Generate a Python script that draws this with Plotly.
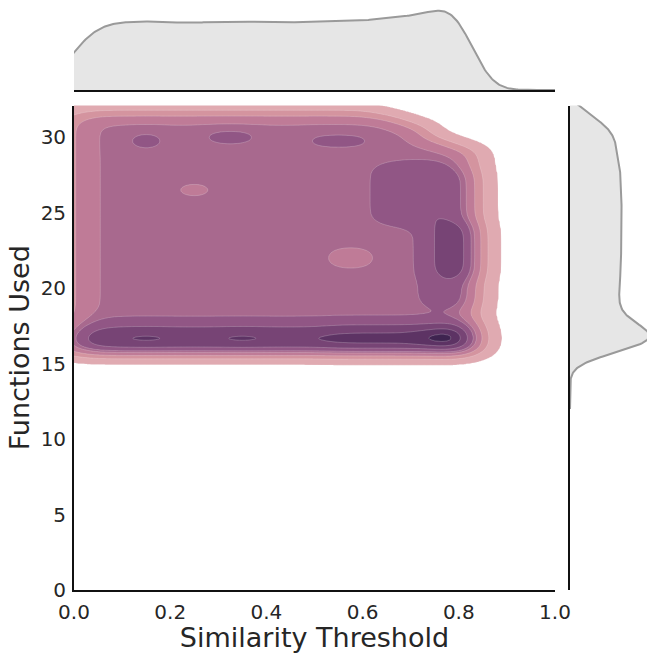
import numpy as np
import plotly.graph_objects as go

# ---------------- data ----------------
# similarity thresholds (x) and functions-used rows (y) of the sampled grid
thresholds = [0.00, 0.05, 0.10, 0.15, 0.20, 0.25, 0.30, 0.35, 0.40,
              0.45, 0.50, 0.55, 0.60, 0.65, 0.70, 0.75, 0.80]
func_rows = [16.0, 16.5, 17.0, 17.5, 18.0, 18.5, 19.0, 19.5, 20.0, 20.5,
             21.0, 21.5, 22.0, 22.5, 23.0, 23.5, 24.0, 24.5, 25.0, 25.5,
             26.0, 26.5, 27.0, 27.5, 28.0, 28.5, 29.0, 29.5, 30.0, 30.5,
             31.0, 31.5]
# relative frequency of each functions-used row
row_weight = [1.85, 2.00, 1.95, 1.35, 1.10, 1.00, 1.00, 1.00, 1.00, 1.00,
              1.00, 1.00, 1.00, 1.00, 1.00, 1.00, 1.00, 1.00, 1.00, 1.00,
              1.00, 1.00, 1.00, 1.00, 1.00, 1.00, 1.00, 1.00, 1.00, 1.00,
              1.00, 0.55]
# relative frequency of each threshold column
col_weight = [0.62, 1.00, 1.00, 1.00, 1.00, 1.00, 1.00, 1.00, 1.00,
              1.00, 1.00, 1.00, 1.00, 1.00, 1.00, 1.00, 1.00]
# highest functions-used value observed for each threshold
col_top = [31.5, 31.5, 31.5, 31.5, 31.5, 31.5, 31.5, 31.5, 31.5,
           31.5, 31.5, 31.5, 31.5, 31.0, 30.5, 29.5, 29.0]
# local excess / deficit of observations (rectangles of the grid)
zone_x0 = [0.65, 0.70, 0.80, 0.75, 0.80, 0.75, 0.80, 0.55, 0.80, 0.75, 0.15, 0.35, 0.15, 0.30, 0.50, 0.55, 0.25]
zone_x1 = [0.75, 0.75, 0.80, 0.75, 0.80, 0.75, 0.80, 0.80, 0.80, 0.80, 0.15, 0.35, 0.15, 0.35, 0.60, 0.60, 0.25]
zone_y0 = [24.5, 24.5, 24.5, 19.0, 19.0, 21.0, 21.0, 16.0, 16.0, 16.5, 16.5, 16.5, 29.5, 30.0, 29.5, 21.5, 26.5]
zone_y1 = [28.0, 28.0, 27.5, 24.0, 24.0, 24.0, 24.0, 17.5, 17.5, 17.0, 17.0, 17.0, 30.0, 30.0, 30.0, 22.5, 26.5]
zone_w = [0.30, 0.20, 0.50, 0.30, 0.60, 0.10, 0.80, 0.15, 0.35, 0.35, 0.15, 0.15, 0.40, 0.50, 0.22, -0.14, -0.40]

# ---------------- style ----------------
contour_levels = [0.055, 0.31, 0.60, 0.93, 1.12, 1.50, 1.90, 2.20]
band_colors = ["rgba(255,255,255,0)", "#e0aab1", "#d4949f", "#bf7b97",
               "#a8698e", "#915685", "#774475", "#5d3364", "#3f2450"]
bw_x, bw_y = 0.035, 0.47
bw_mx, bw_my = 0.04, 0.75

# ---------------- density ----------------
tx = np.array(thresholds)
ry = np.array(func_rows)
hx, hy = 0.05, 0.5
W = np.zeros((len(ry), len(tx)))
for i, xv in enumerate(tx):
    for j, yv in enumerate(ry):
        if yv <= col_top[i] + 1e-9:
            W[j, i] = row_weight[j] * col_weight[i]
for x0, x1, y0, y1, w in zip(zone_x0, zone_x1, zone_y0, zone_y1, zone_w):
    mx_ = (tx >= x0 - 1e-9) & (tx <= x1 + 1e-9)
    my_ = (ry >= y0 - 1e-9) & (ry <= y1 + 1e-9)
    W[np.ix_(my_, mx_)] += w


def kern(g, c, s, h):
    d = (g[:, None] - c[None, :]) / s
    return h * np.exp(-0.5 * d * d) / (s * np.sqrt(2 * np.pi))


gx = np.linspace(-0.15, 1.05, 481)
gy = np.linspace(12.5, 34.0, 431)
Kx = kern(gx, tx, bw_x, hx)
Ky = kern(gy, ry, bw_y, hy)
D = Ky @ W @ Kx.T

lev_ext = [0.0] + contour_levels + [D.max() + 1.0]
idx_ext = [-1.0] + list(range(len(contour_levels))) + [float(len(contour_levels))]
T = np.interp(D, lev_ext, idx_ext)
nc = len(contour_levels)
cscale = [[j / nc, band_colors[j]] for j in range(nc + 1)]

# marginals
mgx = np.linspace(-0.1, 1.05, 400)
Mx = kern(mgx, tx, bw_mx, hx) @ (W.sum(axis=0) * hy)
mgy = np.linspace(12.0, 34.0, 400)
My = kern(mgy, ry, bw_my, hy) @ (W.sum(axis=1) * hx)

# ---------------- figure ----------------
FW, FH = 647, 653
fx = lambda p: p / FW
fy = lambda p: 1 - p / FH

fig = go.Figure()
fig.add_trace(go.Contour(
    x=gx, y=gy, z=T, xaxis="x", yaxis="y",
    contours=dict(start=0, end=nc - 1, size=1, coloring="fill"),
    colorscale=cscale, showscale=False,
    line=dict(width=0.6, color="rgba(255,255,255,0.35)", smoothing=1),
    hoverinfo="skip",
))
fig.add_trace(go.Scatter(
    x=mgx, y=Mx, xaxis="x2", yaxis="y2", mode="lines",
    fill="tozeroy", fillcolor="#e6e6e6",
    line=dict(color="#9a9a9a", width=2), hoverinfo="skip",
))
fig.add_trace(go.Scatter(
    x=My, y=mgy, xaxis="x3", yaxis="y3", mode="lines",
    fill="tozerox", fillcolor="#e6e6e6",
    line=dict(color="#9a9a9a", width=2), hoverinfo="skip",
))

font = "DejaVu Sans"
tick_font = dict(family=font, size=20, color="#262626")
title_font = dict(family=font, size=27, color="#262626")
axis_line = dict(showline=True, linecolor="#111111", linewidth=1.8,
                 showgrid=False, zeroline=False)

fig.update_layout(
    width=FW, height=FH, margin=dict(l=0, r=0, t=0, b=0),
    paper_bgcolor="white", plot_bgcolor="white", showlegend=False,
    font=dict(family=font, color="#262626"),
    xaxis=dict(domain=[fx(74), fx(555)], range=[0, 1], anchor="y",
               tickvals=[0, 0.2, 0.4, 0.6, 0.8, 1.0],
               ticktext=["0.0", "0.2", "0.4", "0.6", "0.8", "1.0"],
               ticks="outside", ticklen=3, tickcolor="rgba(0,0,0,0)",
               tickfont=tick_font, automargin=False,
               title=dict(text="Similarity Threshold", font=title_font,
                          standoff=11),
               **axis_line),
    yaxis=dict(domain=[fy(590), fy(105.5)], range=[0, 32.1], anchor="x",
               tickvals=[0, 5, 10, 15, 20, 25, 30],
               ticks="outside", ticklen=2, tickcolor="rgba(0,0,0,0)",
               tickfont=tick_font, automargin=False,
               title=dict(text="Functions Used", font=title_font,
                          standoff=3),
               **axis_line),
    xaxis2=dict(domain=[fx(74), fx(555)], range=[0, 1], anchor="y2",
                showticklabels=False, ticks="", **axis_line),
    yaxis2=dict(domain=[fy(90), fy(6.7)], range=[0, float(Mx.max()) * 1.05],
                anchor="x2", showticklabels=False, ticks="", showline=False,
                showgrid=False, zeroline=False),
    xaxis3=dict(domain=[fx(570), 1.0],
                range=[0, float(My.max()) * 1.05 * (77.0 / 83.3)],
                anchor="y3", showticklabels=False, ticks="", showline=False,
                showgrid=False, zeroline=False),
    yaxis3=dict(domain=[fy(590), fy(105.5)], range=[0, 32.1], anchor="x3",
                showticklabels=False, ticks="", **axis_line),
)

fig.write_html("out.html")
